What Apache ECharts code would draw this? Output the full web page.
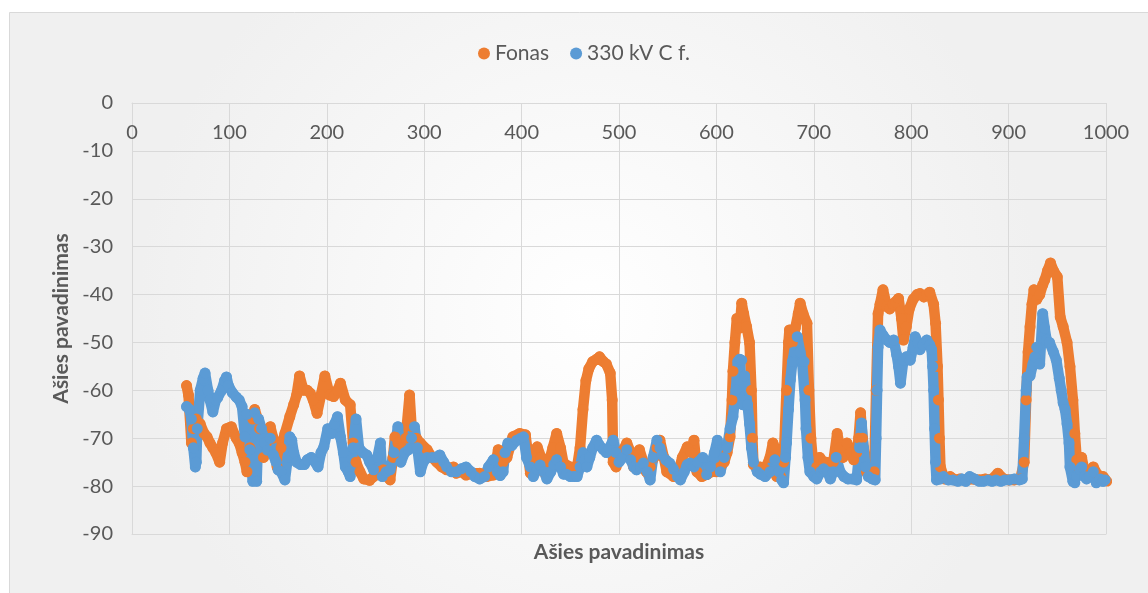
<!DOCTYPE html>
<html>
<head>
<meta charset="utf-8">
<script src="https://cdn.jsdelivr.net/npm/echarts@6/dist/echarts.min.js"></script>
<style>
html,body{margin:0;padding:0;background:#ffffff;}
#chart{width:1148px;height:593px;}
</style>
</head>
<body>
<div id="chart"></div>
<script>
const seriesNames = ['Fonas', '330 kV C f.'];
const axisTitle = 'Ašies pavadinimas';
const xTicks = [0, 100, 200, 300, 400, 500, 600, 700, 800, 900, 1000];
const yTicks = [0, -10, -20, -30, -40, -50, -60, -70, -80, -90];

const fonas = [
[56,-59],[58,-61],[61,-71],[63,-68],[66,-66],[70,-67],[74,-69],[77,-69.7],[80,-71],[83,-72],[86,-73],[90,-75],[93,-71],[97,-68],[102,-67.6],[107,-70],[110,-71],[113,-73],[116,-75],[118,-77],[121,-72],[124,-66],[126,-64],[129,-66],[131,-68],[135,-74],[138,-71],[142,-67.6],[145,-70],[149,-76],[153,-72],[157,-69],[162,-65.5],[166,-63],[169,-61],[172,-57],[176,-60],[180,-60],[183,-60.6],[186,-62],[190,-64.8],[194,-61],[198,-57],[203,-61],[207,-61.3],[211,-60],[214,-58.5],[219,-62],[224,-63],[227,-71],[230,-75],[234,-77],[238,-78.5],[244,-78.8],[248,-78],[254,-77],[258,-76.6],[262,-78],[265,-78.7],[268,-74],[270,-69.7],[273,-71],[277,-72],[281,-70],[285,-61],[287,-67.5],[292,-70],[296,-71],[303,-72.4],[308,-74],[313,-75],[318,-76],[323,-76.6],[330,-76],[333,-77.3],[338,-77],[343,-77.7],[350,-77.3],[357,-77.3],[364,-78],[371,-77.7],[376,-72.4],[378,-73],[381,-75],[385,-74],[391,-69.7],[398,-69],[404,-69.3],[409,-77.3],[413,-75],[416,-71.8],[420,-74],[423,-77],[428,-75],[432,-72],[436,-69],[440,-72],[443,-75.2],[450,-76],[457,-76],[460,-72],[463,-64],[466,-58],[469,-55.5],[473,-54],[477,-53.5],[480,-53],[484,-54],[487,-54.5],[491,-56.4],[493,-62],[494,-75],[497,-76],[500,-74],[504,-72.5],[508,-71],[512,-73],[515,-76],[518,-74],[521,-72.4],[525,-75],[528,-77],[532,-76],[536,-74],[539,-72],[542,-70.4],[546,-74],[549,-77],[556,-78],[561,-77],[565,-74],[570,-71.8],[574,-73],[577,-70.4],[580,-77],[585,-78],[590,-77.6],[595,-77],[600,-77],[604,-76],[608,-75],[611,-73],[614,-69.7],[616,-62],[617,-56],[619,-50],[621,-45],[624,-47],[626,-41.8],[628,-44],[631,-46.7],[634,-50],[636,-60],[637,-70],[638,-75.5],[642,-76],[645,-76],[650,-76.5],[655,-74],[658,-71],[660,-72],[662,-78],[666,-78],[669,-75],[672,-60],[674,-50],[675,-47.4],[678,-50],[681,-47],[684,-44],[686,-41.8],[689,-44],[693,-46],[695,-60],[697,-70],[700,-77],[703,-76],[706,-74],[710,-75],[713,-75],[716,-77],[720,-75],[724,-69],[727,-72],[730,-74],[734,-71],[738,-73],[741,-74.5],[744,-73],[746,-70],[748,-64.7],[750,-70],[754,-77],[758,-78],[762,-77],[764,-60],[766,-44],[768,-42],[771,-39],[775,-42.5],[778,-43],[781,-42],[784,-41.5],[787,-40.8],[790,-45],[792,-49.5],[795,-46.7],[798,-43],[802,-41],[806,-40],[809,-39.8],[813,-40.5],[816,-40],[819,-39.5],[823,-42],[825,-46],[827,-55],[828,-62],[829,-70],[830,-76],[834,-78.5],[840,-78],[845,-78.7],[850,-78.5],[857,-78.7],[864,-78.5],[870,-78.7],[876,-78.5],[882,-78.7],[889,-77.3],[895,-78.5],[900,-78.7],[906,-78.7],[912,-78.5],[916,-75],[918,-62],[920,-52],[922,-46.7],[924,-42],[926,-39],[929,-41],[932,-40],[935,-38],[937,-37],[940,-35],[943,-33.4],[946,-35],[950,-36.3],[953,-44.7],[956,-46.7],[960,-50],[963,-55],[966,-62],[968,-69],[970,-74.5],[972,-76],[975,-74],[978,-77],[980,-77.6],[984,-77],[987,-76],[991,-77.5],[994,-78],[997,-78],[1001,-79]
];

const kv330 = [
[56,-63.4],[59,-64],[61,-66],[63,-72],[65,-76],[66,-75],[67,-68],[70,-60],[73,-57.5],[75,-56.4],[78,-60],[80,-62],[83,-64.5],[86,-62],[88,-61.5],[92,-60],[95,-58],[97,-57.2],[99,-59],[103,-60.5],[107,-61.4],[110,-62],[113,-63.4],[116,-69.7],[118,-65],[121,-72.4],[124,-79],[126,-64.7],[128,-79],[130,-66],[133,-68],[136,-71],[139,-72.5],[142,-70],[145,-73.5],[148,-75],[150,-76.6],[153,-77],[157,-78.7],[160,-74],[162,-69.7],[164,-70.4],[166,-73],[169,-75],[173,-75.5],[177,-75.5],[180,-74.5],[184,-74],[188,-75],[191,-76],[194,-73],[197,-71.8],[201,-68],[205,-69],[208,-67],[211,-65.5],[214,-69.7],[217,-73],[219,-76],[222,-77],[224,-78],[227,-72],[230,-66],[233,-72],[237,-73],[241,-73.5],[244,-75],[248,-76.6],[252,-74],[255,-71],[257,-78],[261,-77],[265,-76.6],[269,-73],[273,-67.6],[276,-75],[280,-73],[284,-72.4],[287,-70],[290,-67.6],[293,-72],[296,-77],[299,-75],[303,-74],[308,-74],[312,-74],[316,-73.5],[320,-75],[323,-76],[328,-77],[333,-77],[338,-76.4],[343,-76],[348,-77],[352,-78],[357,-78.5],[362,-78],[366,-76],[371,-74.5],[375,-77],[378,-77.8],[381,-77],[383,-73],[386,-71],[390,-71.5],[395,-70.4],[399,-70],[402,-69.7],[405,-74],[409,-76],[412,-78],[416,-76.5],[419,-75.6],[423,-77],[426,-78.5],[430,-77],[433,-75.5],[436,-74.5],[440,-76],[443,-77.5],[446,-77.5],[450,-78],[454,-78],[457,-78],[460,-76],[463,-73],[465,-74.5],[467,-76],[470,-74],[473,-72],[477,-70.4],[480,-71.5],[484,-72.4],[487,-73],[490,-72],[494,-70.4],[497,-73],[500,-75],[504,-74],[508,-72.4],[512,-74.5],[515,-76],[518,-76.6],[522,-76],[525,-75.2],[529,-77],[532,-78.7],[535,-74],[539,-70.4],[542,-72],[544,-73.5],[548,-74.5],[552,-75.2],[556,-76.5],[560,-78],[563,-78.7],[567,-77],[570,-75.5],[573,-75.2],[577,-76],[581,-75],[586,-74],[590,-77.6],[594,-76],[598,-73],[601,-70.4],[604,-77],[608,-74],[611,-72],[614,-68],[617,-65.5],[620,-60],[622,-54],[624,-53.5],[626,-53.7],[627,-63],[629,-57],[631,-62],[632,-63],[634,-67],[636,-72],[638,-75],[642,-77],[645,-77.5],[650,-78],[655,-77],[660,-74.5],[664,-77],[667,-78.7],[669,-79.3],[671,-74],[672,-71],[674,-64],[676,-57.8],[678,-54],[680,-52],[683,-48.8],[686,-52],[688,-54],[690,-54],[691,-62],[692,-68],[694,-74],[696,-77],[700,-78],[703,-78.5],[707,-77],[710,-76.4],[714,-77],[717,-78.5],[720,-77],[723,-74],[727,-77],[731,-78],[735,-78.5],[740,-78.5],[744,-78.7],[747,-72],[749,-66.8],[751,-72],[753,-76],[756,-78],[760,-78.5],[763,-78.7],[764,-70],[765,-60],[766,-51],[768,-47.4],[771,-48.5],[775,-49.5],[778,-50],[782,-49.5],[785,-52.5],[787,-55],[789,-58.5],[792,-53.7],[795,-53],[799,-53.7],[802,-51],[804,-48.8],[807,-50],[809,-51.5],[812,-50.5],[816,-49.5],[819,-50.5],[821,-51.5],[822,-55],[823,-60],[824,-68],[825,-75],[826,-78.7],[830,-78.5],[833,-78],[838,-78.7],[843,-78.7],[848,-79],[852,-78.5],[856,-79],[860,-78],[865,-78.5],[870,-79],[874,-79],[879,-78.7],[883,-79],[887,-78.7],[892,-79],[896,-78.7],[901,-78.7],[906,-78.5],[911,-78.7],[914,-78.5],[916,-70],[918,-60],[919,-57.2],[922,-57],[925,-54.5],[927,-53],[929,-51],[932,-54.5],[935,-44],[937,-47],[939,-49.5],[942,-50],[946,-52],[949,-53.7],[952,-57.5],[954,-60],[956,-62.6],[958,-64],[960,-67],[962,-71],[963,-76],[966,-79],[968,-79.3],[970,-78],[973,-76.5],[975,-76],[978,-78],[980,-78.5],[983,-78],[987,-77],[990,-79.3],[994,-78.5],[997,-79],[999,-78.7]
];

const chart = echarts.init(document.getElementById('chart'), null, {renderer: 'canvas'});
const FONT = 'Lato, "Open Sans", sans-serif';
const TXT = '#595959';
const GRIDC = '#d9d9d9';
const TICK_FS = 20;

function makeSeries(name, data, color) {
  return {
    name: name,
    type: 'line',
    xAxisIndex: 0,
    yAxisIndex: 0,
    data: data,
    symbol: 'circle',
    symbolSize: 11,
    showSymbol: true,
    showAllSymbol: true,
    itemStyle: {color: color},
    lineStyle: {color: color, width: 10.5, cap: 'round', join: 'round'},
    emphasis: {disabled: true},
    animation: false
  };
}

chart.setOption({
  animation: false,
  textStyle: {fontFamily: FONT},
  graphic: [{
    type: 'rect',
    z: -100,
    silent: true,
    shape: {x: 9.5, y: 12.5, width: 1160, height: 600},
    style: {
      fill: new echarts.graphic.RadialGradient(0.5, 0.5, 0.75, [
        {offset: 0, color: '#ffffff'},
        {offset: 1, color: '#f0f0f0'}
      ]),
      stroke: '#d9d9d9',
      lineWidth: 1
    }
  }],
  legend: {
    top: 38,
    left: 473,
    icon: 'circle',
    itemWidth: 12,
    itemHeight: 12,
    itemGap: 21,
    textStyle: {color: TXT, fontSize: 21, fontFamily: FONT},
    data: seriesNames
  },
  grid: {left: 132, right: 42, top: 103, bottom: 59, containLabel: false},
  xAxis: [{
    type: 'value',
    min: xTicks[0],
    max: xTicks[xTicks.length - 1],
    interval: 100,
    position: 'bottom',
    axisLine: {onZero: false, show: true, lineStyle: {color: GRIDC}},
    axisTick: {show: false},
    axisLabel: {show: false},
    splitLine: {show: true, lineStyle: {color: GRIDC, width: 1}},
    name: axisTitle,
    nameLocation: 'middle',
    nameGap: 8,
    nameTextStyle: {color: TXT, fontSize: 21, fontWeight: 'bold', fontFamily: FONT, verticalAlign: 'top'}
  }, {
    type: 'value',
    min: xTicks[0],
    max: xTicks[xTicks.length - 1],
    interval: 100,
    position: 'top',
    axisLine: {onZero: false, show: true, lineStyle: {color: GRIDC}},
    axisTick: {show: false},
    splitLine: {show: false},
    axisLabel: {inside: true, margin: 20, color: TXT, fontSize: TICK_FS, fontFamily: FONT,
      formatter: function (v) { return xTicks.indexOf(v) >= 0 ? String(v) : ''; }}
  }],
  yAxis: [{
    type: 'value',
    min: yTicks[yTicks.length - 1],
    max: yTicks[0],
    interval: 10,
    axisLine: {show: true, onZero: false, lineStyle: {color: GRIDC}},
    axisTick: {show: false},
    splitLine: {show: true, lineStyle: {color: GRIDC, width: 1}},
    axisLabel: {margin: 19, color: TXT, fontSize: TICK_FS, fontFamily: FONT,
      formatter: function (v) { return yTicks.indexOf(v) >= 0 ? String(v) : ''; }},
    name: axisTitle,
    nameLocation: 'middle',
    nameRotate: 90,
    nameGap: 58,
    nameTextStyle: {color: TXT, fontSize: 21, fontWeight: 'bold', fontFamily: FONT}
  }],
  series: [
    makeSeries(seriesNames[0], fonas, '#ED7D31'),
    makeSeries(seriesNames[1], kv330, '#5B9BD5')
  ]
});
</script>
</body>
</html>
